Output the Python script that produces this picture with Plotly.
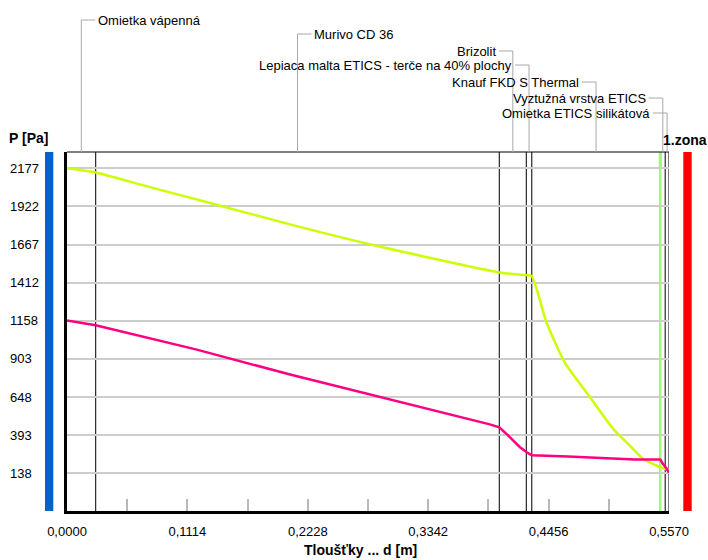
import plotly.graph_objects as go

# ---------------- data ----------------
layer_names = ["Omietka vápenná", "Murivo CD 36", "Brizolit",
               "Lepiaca malta ETICS - terče na 40% plochy", "Knauf FKD S Thermal",
               "Vyztužná vrstva ETICS", "Omietka ETICS silikátová"]
layer_bounds = [0.0, 0.0265, 0.400, 0.425, 0.430, 0.549, 0.5535, 0.557]

x_tick_vals = [0.0, 0.1114, 0.2228, 0.3342, 0.4456, 0.5570]
x_tick_text = ["0,0000", "0,1114", "0,2228", "0,3342", "0,4456", "0,5570"]
y_tick_vals = [2177, 1922, 1667, 1412, 1158, 903, 648, 393, 138]

# saturated water-vapour pressure (yellow-green)
psat_d = [0.0, 0.0265, 0.0708, 0.1324, 0.2064, 0.2831, 0.4000, 0.4250, 0.4300,
          0.4435, 0.4605, 0.4838, 0.5052, 0.5206, 0.5329, 0.5490, 0.5535, 0.5570]
psat_p = [2177, 2149, 2063, 1945, 1802, 1664, 1481, 1462, 1456,
          1150, 880, 648, 437, 325, 236, 178, 168, 160]

# partial water-vapour pressure (magenta)
p_d = [0.0, 0.0265, 0.1201, 0.2064, 0.3912, 0.4000, 0.4097, 0.4189, 0.4251, 0.4300,
       0.4636, 0.4975, 0.5252, 0.5490, 0.5510, 0.5545, 0.5570]
p_p = [1160, 1128, 965, 798, 465, 445, 380, 314, 280, 258,
       251, 242, 231, 231, 205, 172, 142]

# condensation zone
zone_d = [0.5475, 0.5505]

# ---------------- layout helpers ----------------
W, H = 708, 560
L, R, T, B = 67, 39, 152, 49
PW, PH = W - L - R, H - T - B


def px_x(px):
    return (px - L) / PW


def px_y(py):
    return (H - B - py) / PH


FONT = "Liberation Sans, Arial, sans-serif"

fig = go.Figure()
fig.add_trace(go.Scatter(x=psat_d, y=psat_p, mode="lines",
                         line=dict(color="#CCFF00", width=2.5, shape="spline", smoothing=0.6),
                         hoverinfo="skip"))
fig.add_trace(go.Scatter(x=p_d, y=p_p, mode="lines",
                         line=dict(color="#FF0080", width=2.5), hoverinfo="skip"))

shapes = []
# layer boundaries
for b in layer_bounds[1:]:
    shapes.append(dict(type="line", xref="x", yref="paper", x0=b, x1=b, y0=0, y1=1,
                       line=dict(color="#282828", width=1.2), layer="between"))
# condensation zone marker
zc = (zone_d[0] + zone_d[1]) / 2
shapes.append(dict(type="line", xref="x", yref="paper", x0=zc, x1=zc, y0=0, y1=1,
                   line=dict(color="#99FF77", width=2.2), layer="between"))
shapes.append(dict(type="rect", xref="x", yref="paper", x0=zone_d[0], x1=zone_d[1],
                   y0=px_y(168), y1=1, fillcolor="#99FF77", line=dict(width=0), layer="between"))
# top border
shapes.append(dict(type="line", xref="paper", yref="paper", x0=0, x1=1, y0=1, y1=1,
                   line=dict(color="#000000", width=1.2)))
# side bars
shapes.append(dict(type="rect", xref="paper", yref="paper", x0=px_x(45), x1=px_x(53.3),
                   y0=0, y1=1, fillcolor="#0064C8", line=dict(width=0)))
shapes.append(dict(type="rect", xref="paper", yref="paper", x0=px_x(683.3), x1=px_x(691.7),
                   y0=0, y1=1, fillcolor="#FF0000", line=dict(width=0)))

annotations = []
# layer labels with leader lines
rows = [20, 34, 51, 65, 82, 98, 113]
sides = [1, 1, -1, -1, -1, -1, -1]
for name, a, b, r, s in zip(layer_names, layer_bounds[:-1], layer_bounds[1:], rows, sides):
    m = (a + b) / 2
    shapes.append(dict(type="line", xref="x", yref="paper", x0=m, x1=m, y0=1, y1=px_y(r),
                       line=dict(color="#a8a8a8", width=1)))
    shapes.append(dict(type="line", xref="x", xsizemode="pixel", xanchor=m, x0=0, x1=14 * s,
                       yref="paper", y0=px_y(r), y1=px_y(r),
                       line=dict(color="#a8a8a8", width=1)))
    annotations.append(dict(x=m, xref="x", xshift=15 * s, xanchor="left" if s > 0 else "right",
                            y=px_y(r), yref="paper", yanchor="middle", text=name,
                            showarrow=False, font=dict(family=FONT, size=13, color="#000")))

# y tick labels (left aligned)
for v in y_tick_vals:
    annotations.append(dict(x=px_x(8), xref="paper", xanchor="left", y=v, yref="y",
                            yanchor="middle", text=str(v), showarrow=False,
                            font=dict(family=FONT, size=13, color="#000")))

annotations.append(dict(x=px_x(7), xref="paper", xanchor="left", y=px_y(138), yref="paper",
                        yanchor="middle", text="<b>P [Pa]</b>", showarrow=False,
                        font=dict(family=FONT, size=14, color="#000")))
annotations.append(dict(x=px_x(661), xref="paper", xanchor="left", y=px_y(140), yref="paper",
                        yanchor="middle", text="<b>1.zona</b>", showarrow=False,
                        font=dict(family=FONT, size=14, color="#000")))
annotations.append(dict(x=px_x(360), xref="paper", xanchor="center", y=px_y(550), yref="paper",
                        yanchor="middle", text="<b>Tloušťky ... d [m]</b>", showarrow=False,
                        font=dict(family=FONT, size=14, color="#000")))

fig.update_layout(
    width=W, height=H,
    margin=dict(l=L, r=R, t=T, b=B, pad=0),
    paper_bgcolor="#ffffff", plot_bgcolor="#ffffff",
    showlegend=False,
    shapes=shapes, annotations=annotations,
    xaxis=dict(range=[0, 0.557], tickvals=x_tick_vals, ticktext=x_tick_text,
               ticks="inside", ticklen=12, tickcolor="#b8b8b8", tickwidth=1.5,
               minor=dict(ticks="inside", ticklen=12, tickcolor="#b8b8b8", tickwidth=1.5,
                          tick0=0, dtick=0.0557, showgrid=False),
               showgrid=False, zeroline=False, showline=True, linecolor="#000000",
               linewidth=2.5, tickfont=dict(family=FONT, size=13, color="#000"),
               ticklabelstandoff=7),
    yaxis=dict(range=[-114, 2286], tickvals=y_tick_vals, showticklabels=False, ticks="",
               showgrid=True, gridcolor="#cdcdcd", gridwidth=1.8, zeroline=False,
               showline=True, linecolor="#000000", linewidth=2.5),
)

fig.write_html("out.html", config={"displayModeBar": False},
               post_script="document.body.style.margin='0px';document.body.style.padding='0px';")
